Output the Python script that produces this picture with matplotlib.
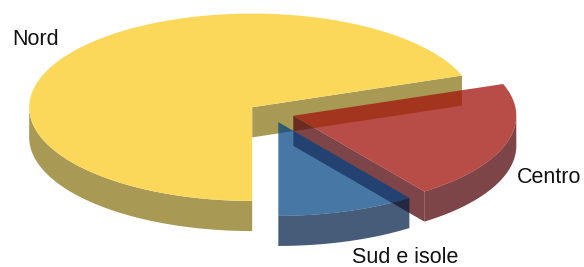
import numpy as np
import matplotlib
matplotlib.use('Agg')
import matplotlib.pyplot as plt
from matplotlib.patches import Polygon

# slice data (percent)
regions = ['Nord', 'Centro', 'Sud e isole']
shares = [69.5, 20.5, 10.0]

# colours: top face, side face, opacity
top_colors = ['#fcd85a', '#a2150f', '#004281']
side_colors = ['#a89a55', '#550a0e', '#001d44']
alphas = [1.0, 0.76, 0.72]

# 3d pie geometry (units of the pie radius)
start_angle = 270.0   # slices run clockwise from here
tilt = 0.42
depth = 0.135
explode = 0.104

# label anchors (left edge, baseline)
label_xy = [(-1.162, 0.306), (1.102, -0.315), (0.362, -0.674)]


def rim(t, ox, oy, z=0.0):
    return np.column_stack([ox + np.cos(t), oy + tilt * np.sin(t) + z])


def slice_faces(t1, t2):
    mid = (t1 + t2) / 2
    ox, oy = explode * np.cos(mid), explode * tilt * np.sin(mid)
    faces = []
    # radial cut faces, only those turned to the viewer
    for t, show in [(t1, np.cos(t1) > 1e-6), (t2, np.cos(t2) < -1e-6)]:
        if show:
            p = rim(np.array([t]), ox, oy)[0]
            faces.append(('side', [(ox, oy), tuple(p), (p[0], p[1] - depth), (ox, oy - depth)]))
    # outer wall, front half only
    for k in range(-2, 2):
        lo = max(t1, np.pi + 2 * k * np.pi)
        hi = min(t2, 2 * np.pi + 2 * k * np.pi)
        if lo < hi:
            t = np.linspace(lo, hi, 120)
            upper = rim(t, ox, oy)
            lower = rim(t[::-1], ox, oy, -depth)
            faces.append(('side', np.vstack([upper, lower])))
    # top face
    t = np.linspace(t1, t2, 300)
    faces.append(('top', np.vstack([[ox, oy], rim(t, ox, oy)])))
    return mid, faces


fig = plt.figure(figsize=(5.84, 2.67), dpi=100)
ax = fig.add_axes([0, 0, 1, 1])
ax.set_xlim(-1.216, 1.403)
ax.set_ylim(-0.691, 0.506)
ax.axis('off')

bounds = np.radians(start_angle - np.cumsum([0] + shares) * 3.6)
slices = []
for i in range(len(shares)):
    mid, faces = slice_faces(bounds[i + 1], bounds[i])
    slices.append((np.sin(mid), i, faces))

# back to front
for _, i, faces in sorted(slices, key=lambda s: -s[0]):
    for kind, pts in faces:
        col = top_colors[i] if kind == 'top' else side_colors[i]
        ax.add_patch(Polygon(pts, closed=True, facecolor=col, edgecolor='none',
                             alpha=alphas[i], linewidth=0))

for name, (x, y) in zip(regions, label_xy):
    ax.text(x, y, name, ha='left', va='baseline', fontsize=15.5,
            family=['Liberation Sans', 'DejaVu Sans'], color='#111111')

fig.savefig('out.png', dpi=100)
